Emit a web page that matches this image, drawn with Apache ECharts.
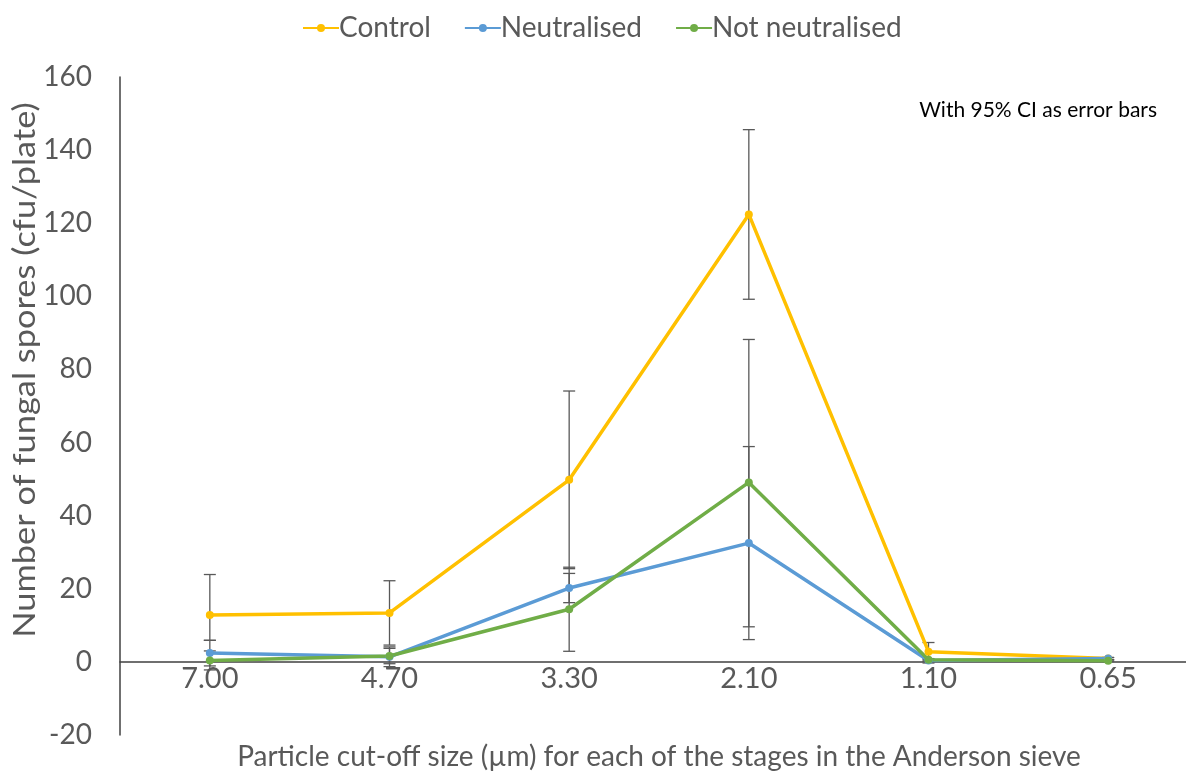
<!DOCTYPE html>
<html><head><meta charset="utf-8">
<script src="https://cdn.jsdelivr.net/npm/echarts@6/dist/echarts.min.js"></script>
<style>html,body{margin:0;padding:0;background:#fff}#c{width:1186px;height:771px}</style>
</head><body><div id="c"></div>
<script>
const categories = ['7.00','4.70','3.30','2.10','1.10','0.65'];
const yTicks = [-20,0,20,40,60,80,100,120,140,160];
const control = [12.8, 13.4, 49.8, 122.4, 2.8, 0.9];
const controlLow = [5.9, 4.6, 25.5, 99.2, -0.3, 0.6];
const controlHigh = [23.9, 22.2, 74.1, 145.6, 5.3, 1.2];
const neutralised = [2.4, 1.4, 20.2, 32.5, 0.4, 0.9];
const neutralisedLow = [-1.1, -1.3, 16.2, 6.1, 0.1, 0.6];
const neutralisedHigh = [5.9, 4.1, 24.2, 58.9, 0.7, 1.2];
const notNeutralised = [0.4, 1.6, 14.4, 49.1, 0.6, 0.3];
const notNeutralisedLow = [-2.2, -0.5, 2.9, 9.6, 0.3, 0.1];
const notNeutralisedHigh = [3.0, 3.7, 25.9, 88.2, 0.9, 0.5];

const FONT = 'Lato';
const TXT = '#595959';

function errSeries(low, high) {
  return {
    type: 'custom', silent: true, z: 1,
    data: categories.map((c, i) => [i, low[i], high[i]]),
    renderItem: function (params, api) {
      const lo = api.coord([api.value(0), api.value(1)]);
      const hi = api.coord([api.value(0), api.value(2)]);
      const w = 6;
      const st = {stroke: '#595959', lineWidth: 1.3};
      return {type: 'group', children: [
        {type: 'line', shape: {x1: lo[0], y1: lo[1], x2: hi[0], y2: hi[1]}, style: st},
        {type: 'line', shape: {x1: lo[0]-w, y1: lo[1], x2: lo[0]+w, y2: lo[1]}, style: st},
        {type: 'line', shape: {x1: hi[0]-w, y1: hi[1], x2: hi[0]+w, y2: hi[1]}, style: st}
      ]};
    }
  };
}
function lineSeries(name, data, color) {
  return {name, type: 'line', data, z: 3, symbol: 'circle', symbolSize: 8,
    lineStyle: {width: 3.5, color}, itemStyle: {color}};
}

const chart = echarts.init(document.getElementById('c'), null, {renderer: 'canvas'});
chart.setOption({
  animation: false,
  textStyle: {fontFamily: FONT},
  legend: {
    top: 9, left: 297, itemGap: 33, itemWidth: 36, itemHeight: 10,
    textStyle: {fontSize: 28, color: TXT, fontFamily: FONT, padding: [0,0,0,-5]},
    data: ['Control','Neutralised','Not neutralised']
  },
  graphic: [
    {type: 'text', right: 29, top: 100,
      style: {text: 'With 95% CI as error bars', fontSize: 21, fill: '#000', fontFamily: FONT}},
    {type: 'text', x: 25, y: 370, rotation: Math.PI / 2, scaleX: 1.11,
      style: {text: 'Number of fungal spores (cfu/plate)', fontSize: 31, fill: TXT, fontFamily: FONT,
        align: 'center', verticalAlign: 'middle'}}
  ],
  grid: {left: 120, top: 77, bottom: 36, width: 1078, outerBoundsMode: 'none', containLabel: false},
  xAxis: {
    type: 'category', data: categories,
    name: 'Particle cut-off size (µm) for each of the stages in the Anderson sieve',
    nameLocation: 'middle', nameGap: 8, nameMoveOverlap: false,
    nameTextStyle: {fontSize: 28, color: TXT, fontFamily: FONT},
    axisLine: {onZero: true, lineStyle: {color: '#404040', width: 1.5}},
    axisTick: {show: false},
    axisLabel: {fontSize: 29, color: TXT, margin: -71, fontFamily: FONT}
  },
  yAxis: {
    type: 'value', min: -20, max: 160, interval: 20,
    axisLine: {show: true, lineStyle: {color: '#404040', width: 1.5}},
    axisTick: {show: false},
    splitLine: {show: false},
    axisLabel: {fontSize: 28, color: TXT, margin: 28, fontFamily: FONT,
      formatter: v => yTicks.includes(v) ? String(v) : ''}
  },
  series: [
    errSeries(controlLow, controlHigh),
    errSeries(neutralisedLow, neutralisedHigh),
    errSeries(notNeutralisedLow, notNeutralisedHigh),
    lineSeries('Control', control, '#FFC000'),
    lineSeries('Neutralised', neutralised, '#5B9BD5'),
    lineSeries('Not neutralised', notNeutralised, '#70AD47')
  ]
});
</script></body></html>
